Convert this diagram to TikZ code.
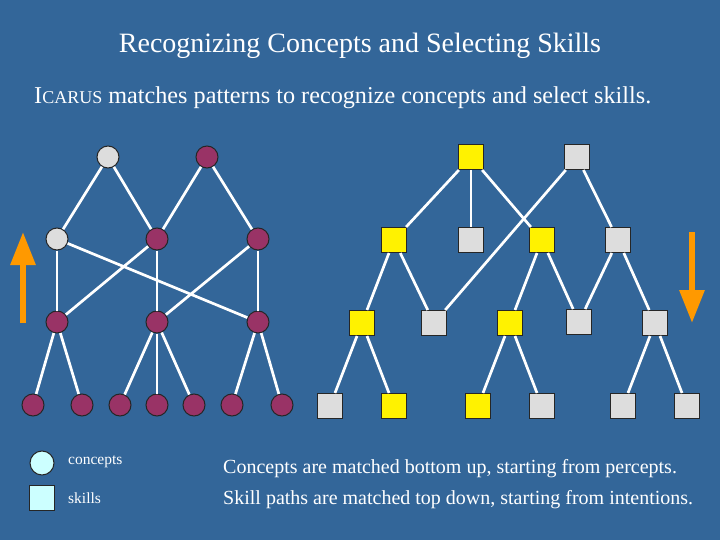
\documentclass[tikz,border=0pt]{standalone}
\usepackage{fontspec}
\setmainfont{Liberation Serif}
\usetikzlibrary{arrows.meta}
\definecolor{slideblue}{RGB}{51,102,153}
\definecolor{plum}{RGB}{153,51,102}
\definecolor{pale}{RGB}{221,221,221}
\definecolor{amber}{RGB}{255,153,0}
\definecolor{icecyan}{RGB}{204,255,255}
\tikzstyle{concept} = [circle,draw=black!85,line width=1pt,minimum size=22pt,inner sep=0pt]
\tikzstyle{skill} = [rectangle,draw=black!85,line width=1pt,minimum size=25pt,inner sep=0pt]
\tikzstyle{link} = [white,line width=2.7pt]
\tikzstyle{flowarrow} = [amber,line width=6pt,-{Triangle[width=24pt,length=33pt]}]
\tikzstyle{caption} = [white,inner sep=0pt]

\begin{document}
\begin{tikzpicture}[x=1pt,y=-1pt]   % Begin ICARUS matching slide

        \useasboundingbox (0,0) rectangle (720,540);
        \fill[slideblue] (0,0) rectangle (720,540);

        % Title and subtitle
        \node[caption,anchor=base,font=\fontsize{28}{34}\selectfont] (title) at (360,53) {Recognizing Concepts and Selecting Skills};
        \node[caption,anchor=base west,font=\fontsize{24.2}{28}\selectfont] (subtitle) at (34,104)
            {I{\fontsize{18}{22}\selectfont CARUS} matches patterns to recognize concepts and select skills.};

        % Concept hierarchy (left), top level
        \node[concept,fill=pale] (c11) at (108,157) {};
        \node[concept,fill=plum] (c12) at (207,157) {};
        % second level
        \node[concept,fill=pale] (c21) at (57,239) {};
        \node[concept,fill=plum] (c22) at (157,239) {};
        \node[concept,fill=plum] (c23) at (258,239) {};
        % third level
        \node[concept,fill=plum] (c31) at (57,322) {};
        \node[concept,fill=plum] (c32) at (157,322) {};
        \node[concept,fill=plum] (c33) at (258,322) {};
        % percepts
        \node[concept,fill=plum] (c41) at (33,405) {};
        \node[concept,fill=plum] (c42) at (82,405) {};
        \node[concept,fill=plum] (c43) at (120,405) {};
        \node[concept,fill=plum] (c44) at (157,405) {};
        \node[concept,fill=plum] (c45) at (194,405) {};
        \node[concept,fill=plum] (c46) at (232,405) {};
        \node[concept,fill=plum] (c47) at (282,405) {};

        % Links between concepts
        \draw[link] (c11) -- (c21);
        \draw[link] (c11) -- (c22);
        \draw[link] (c12) -- (c22);
        \draw[link] (c12) -- (c23);
        \draw[link] (c21) -- (c31);
        \draw[link] (c21) -- (c33);
        \draw[link] (c22) -- (c31);
        \draw[link] (c22) -- (c32);
        \draw[link] (c23) -- (c32);
        \draw[link] (c23) -- (c33);
        \draw[link] (c31) -- (c41);
        \draw[link] (c31) -- (c42);
        \draw[link] (c32) -- (c43);
        \draw[link] (c32) -- (c44);
        \draw[link] (c32) -- (c45);
        \draw[link] (c33) -- (c46);
        \draw[link] (c33) -- (c47);

        % Skill hierarchy (right), top level
        \node[skill,fill=yellow] (s11) at (471,157) {};
        \node[skill,fill=pale] (s12) at (577,157) {};
        % second level
        \node[skill,fill=yellow] (s21) at (394,240) {};
        \node[skill,fill=pale] (s22) at (471,240) {};
        \node[skill,fill=yellow] (s23) at (542,240) {};
        \node[skill,fill=pale] (s24) at (618,240) {};
        % third level
        \node[skill,fill=yellow] (s31) at (362,323) {};
        \node[skill,fill=pale] (s32) at (434,323) {};
        \node[skill,fill=yellow] (s33) at (510,323) {};
        \node[skill,fill=pale] (s34) at (579,322) {};
        \node[skill,fill=pale] (s35) at (655,323) {};
        % primitive skills
        \node[skill,fill=pale] (s41) at (330,406) {};
        \node[skill,fill=yellow] (s42) at (394,406) {};
        \node[skill,fill=yellow] (s43) at (478,406) {};
        \node[skill,fill=pale] (s44) at (542,406) {};
        \node[skill,fill=pale] (s45) at (623,406) {};
        \node[skill,fill=pale] (s46) at (687,406) {};

        % Links between skills
        \draw[link] (s11) -- (s21);
        \draw[link] (s11) -- (s22);
        \draw[link] (s11) -- (s23);
        \draw[link] (s12) -- (s32);
        \draw[link] (s12) -- (s24);
        \draw[link] (s21) -- (s31);
        \draw[link] (s21) -- (s32);
        \draw[link] (s23) -- (s33);
        \draw[link] (s23) -- (s34);
        \draw[link] (s24) -- (s34);
        \draw[link] (s24) -- (s35);
        \draw[link] (s31) -- (s41);
        \draw[link] (s31) -- (s42);
        \draw[link] (s33) -- (s43);
        \draw[link] (s33) -- (s44);
        \draw[link] (s35) -- (s45);
        \draw[link] (s35) -- (s46);

        % Direction arrows: bottom up and top down
        \coordinate (upfrom) at (23,323);
        \coordinate (upto) at (23,232);
        \coordinate (downfrom) at (692,232);
        \coordinate (downto) at (692,323);
        \draw[flowarrow] (upfrom) -- (upto);
        \draw[flowarrow] (downfrom) -- (downto);

        % Legend
        \node[concept,fill=icecyan,minimum size=24pt] (keyconcept) at (42,463) {};
        \node[skill,fill=icecyan] (keyskill) at (42,498) {};
        \node[caption,anchor=west,font=\fontsize{15.5}{18}\selectfont] (keyconcepttext) at (68,462) {concepts};
        \node[caption,anchor=west,font=\fontsize{15.5}{18}\selectfont] (keyskilltext) at (68,498) {skills};

        % Explanation
        \node[caption,anchor=base west,font=\fontsize{20}{24}\selectfont] (note1) at (223,473) {Concepts are matched bottom up, starting from percepts.};
        \node[caption,anchor=base west,font=\fontsize{20}{24}\selectfont] (note2) at (223,504) {Skill paths are matched top down, starting from intentions.};

\end{tikzpicture}
\end{document}
